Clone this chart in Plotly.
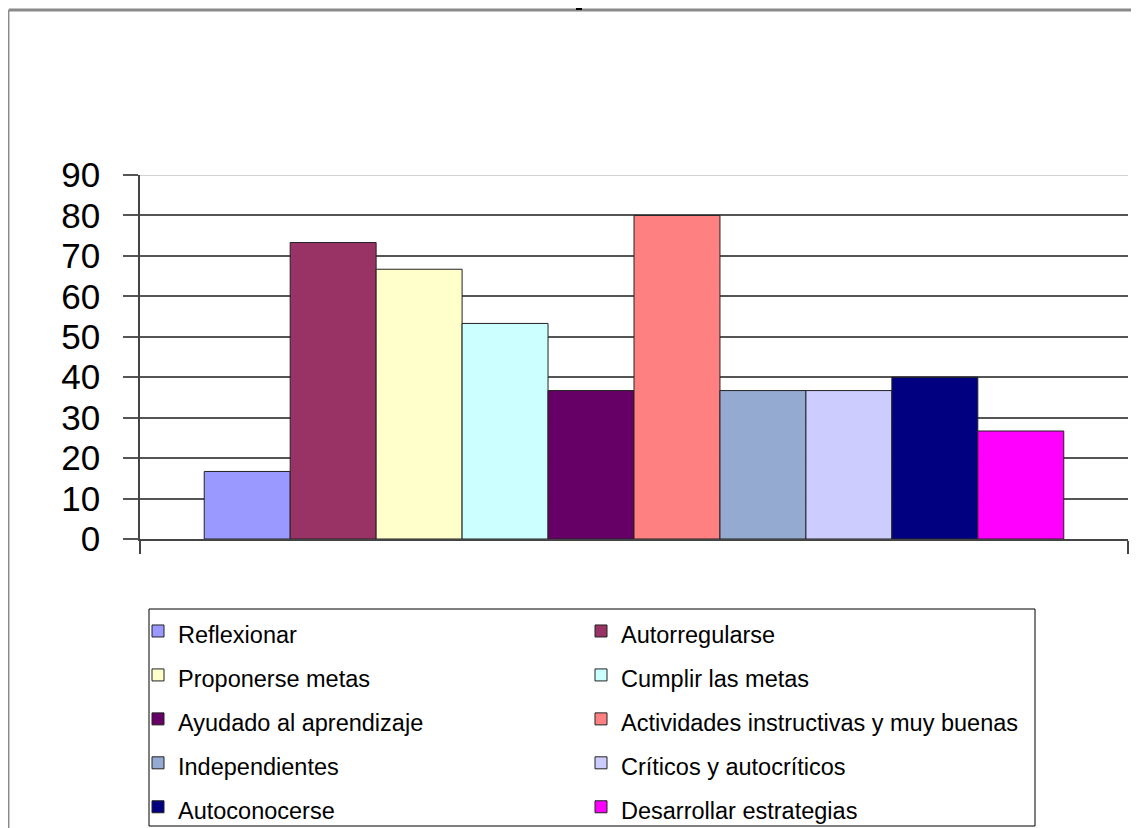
import plotly.graph_objects as go

categories = ["Reflexionar", "Autorregularse", "Proponerse metas", "Cumplir las metas",
              "Ayudado al aprendizaje", "Actividades instructivas y muy buenas",
              "Independientes", "Críticos y autocríticos", "Autoconocerse",
              "Desarrollar estrategias"]
values = [16.7, 73.3, 66.7, 53.3, 36.7, 80.0, 36.7, 36.7, 40.0, 26.7]
colors = ["#9999FF", "#993366", "#FFFFCC", "#CCFFFF", "#660066", "#FF8080",
          "#95AAD0", "#CCCCFF", "#000080", "#FF00FF"]
y_ticks = [0, 10, 20, 30, 40, 50, 60, 70, 80, 90]

# page body has an 8px margin; work in screen coordinates then shift
OFF = 8
W, H = 1139 - OFF, 828 - OFF
L, R, T, B = 140 - OFF, 1128 - OFF, 175 - OFF, 539 - OFF

fig = go.Figure()
for name, v, c in zip(categories, values, colors):
    fig.add_trace(go.Bar(
        x=[0], y=[v],
        name="<span style='font-size:23.5px'>" + name + "</span>",
        marker=dict(color=c, line=dict(color="#222222", width=1)),
    ))

def px(x):
    return (x - OFF - L) / (R - L)

def py(y):
    return (B - (y - OFF)) / (B - T)

shapes = [
    # outer frame
    dict(type="line", xref="paper", yref="paper", x0=px(8.7), x1=px(1139), y0=py(10), y1=py(10),
         line=dict(color="#8a8a8a", width=3)),
    dict(type="line", xref="paper", yref="paper", x0=px(8.7), x1=px(8.7), y0=py(10), y1=py(828),
         line=dict(color="#8a8a8a", width=1.5)),
    dict(type="rect", xref="paper", yref="paper", x0=px(576), x1=px(582), y0=py(10), y1=py(7),
         line=dict(width=0), fillcolor="#000000"),
    # lighter top gridline
    dict(type="line", xref="paper", yref="y", x0=0, x1=1, y0=90, y1=90,
         line=dict(color="#c4c4c4", width=1.5), layer="above"),
    # legend box
    dict(type="rect", xref="paper", yref="paper", x0=px(149), x1=px(1035), y0=py(609), y1=py(826),
         line=dict(color="black", width=1), fillcolor="rgba(0,0,0,0)"),
]

fig.update_layout(
    width=W, height=H,
    margin=dict(l=L, r=W - R, t=T, b=H - B, autoexpand=False),
    paper_bgcolor="white", plot_bgcolor="white",
    barmode="group", bargap=0.13, bargroupgap=0,
    font=dict(family="Liberation Sans, Arial, sans-serif", color="black"),
    showlegend=True,
    legend=dict(orientation="h", x=px(138), y=py(604), xanchor="left", yanchor="top",
                entrywidth=398, entrywidthmode="pixels",
                font=dict(size=31.5, color="black"),
                borderwidth=0, bgcolor="rgba(0,0,0,0)",
                traceorder="normal"),
    shapes=shapes,
)
fig.update_xaxes(type="linear", range=[-0.5, 0.5], showgrid=False, zeroline=False,
                 showline=True, linecolor="#444444", linewidth=1.5,
                 tickvals=[-0.5, 0.5], ticks="outside", ticklen=13, tickcolor="#444444",
                 tickwidth=1.5, showticklabels=False)
fig.update_yaxes(range=[0, 90], tickvals=y_ticks, showgrid=True, gridcolor="#555555", gridwidth=1.5,
                 zeroline=False, showline=True, linecolor="#444444", linewidth=1.5,
                 ticks="outside", ticklen=15, tickcolor="#555555", tickwidth=1.5,
                 tickfont=dict(size=35, color="black"), ticklabelstandoff=16)

fig.write_html("out.html")
